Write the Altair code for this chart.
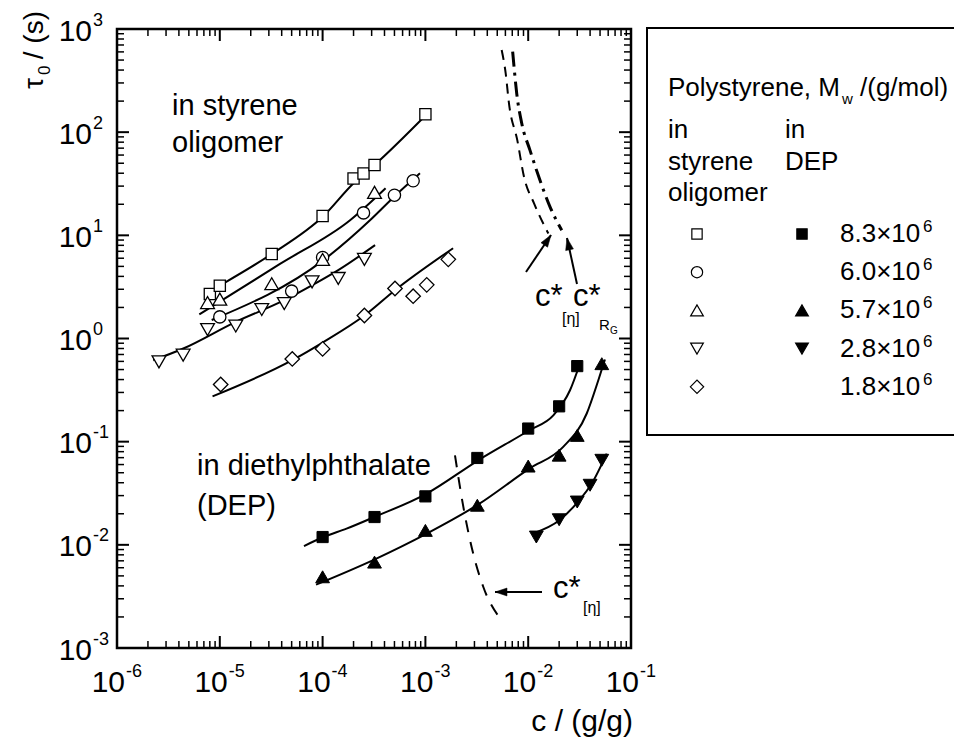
import math
import altair as alt
import pandas as pd

FONT = "Liberation Sans"

# ---------------------------------------------------------------
# Zero-shear relaxation time tau_0 (s) against concentration c (g/g)
# Polystyrene in styrene oligomer (open symbols)
# ---------------------------------------------------------------
so_sq_c = [8.0e-6, 1.0e-5, 3.2e-5, 1.0e-4, 2.0e-4, 2.5e-4, 3.2e-4, 1.0e-3]
so_sq_t = [2.7, 3.25, 6.6, 15.4, 35.6, 39.8, 48.0, 149.0]
so_ci_c = [1.0e-5, 5.0e-5, 1.0e-4, 2.5e-4, 5.0e-4, 7.6e-4]
so_ci_t = [1.62, 2.88, 6.1, 16.5, 24.5, 33.8]
so_tu_c = [7.6e-6, 1.0e-5, 3.2e-5, 1.0e-4, 3.2e-4]
so_tu_t = [2.23, 2.41, 3.4, 5.84, 26.1]
so_td_c = [2.56e-6, 4.4e-6, 7.6e-6, 1.43e-5, 2.56e-5, 4.24e-5, 7.9e-5, 1.42e-4, 2.55e-4]
so_td_t = [0.593, 0.689, 1.22, 1.32, 1.91, 2.18, 3.54, 3.82, 5.84]
so_di_c = [1.02e-5, 5.07e-5, 1.0e-4, 2.55e-4, 5.06e-4, 7.6e-4, 1.03e-3, 1.67e-3]
so_di_t = [0.358, 0.634, 0.793, 1.67, 3.05, 2.57, 3.31, 5.85]

# Polystyrene in diethylphthalate, DEP (filled symbols)
dep_sq_c = [1.0e-4, 3.2e-4, 1.0e-3, 3.2e-3, 1.0e-2, 2.0e-2, 3.0e-2]
dep_sq_t = [0.0119, 0.0186, 0.0295, 0.0695, 0.134, 0.22, 0.54]
dep_tu_c = [1.0e-4, 3.2e-4, 1.0e-3, 3.2e-3, 1.0e-2, 2.0e-2, 3.0e-2, 5.2e-2]
dep_tu_t = [0.0049, 0.0068, 0.0138, 0.0242, 0.058, 0.074, 0.115, 0.57]
dep_td_c = [0.012, 0.020, 0.030, 0.040, 0.052]
dep_td_t = [0.0119, 0.0175, 0.026, 0.0378, 0.066]

# Fitted curves through each series
fit_so_sq_c = [1.08e-5, 3.2e-5, 1.02e-4, 2.0e-4, 3.2e-4, 1.03e-3]
fit_so_sq_t = [3.41, 6.6, 15.4, 32.0, 48.0, 149.0]
fit_so_tu_c = [6.32e-6, 3.85e-5, 1.85e-4, 4.1e-4]
fit_so_tu_t = [1.71, 5.28, 14.0, 28.6]
fit_so_ci_c = [8.34e-6, 1.02e-4, 2.89e-4, 4.88e-4, 8.85e-4]
fit_so_ci_t = [1.51, 5.75, 14.0, 23.3, 39.9]
fit_so_td_c = [2.25e-6, 4.42e-6, 1.43e-5, 4.24e-5, 7.94e-5, 1.42e-4, 3.24e-4]
fit_so_td_t = [0.616, 0.80, 1.45, 2.35, 3.29, 4.6, 8.03]
fit_so_di_c = [8.5e-6, 5.07e-5, 1.0e-4, 2.55e-4, 5.06e-4, 1.86e-3]
fit_so_di_t = [0.275, 0.617, 0.914, 1.67, 2.94, 7.5]

fit_dep_sq_c = [6.59e-5, 1.02e-4, 1.71e-4, 3.18e-4, 1.03e-3, 3.27e-3, 1.025e-2, 1.754e-2, 2.55e-2, 3.19e-2]
fit_dep_sq_t = [0.00973, 0.0119, 0.01436, 0.0186, 0.0314, 0.066, 0.129, 0.180, 0.315, 0.573]
fit_dep_tu_c = [8.63e-5, 3.18e-4, 1.03e-3, 3.24e-3, 1.025e-2, 2.19e-2, 3.71e-2, 4.81e-2, 5.58e-2]
fit_dep_tu_t = [0.00411, 0.0072, 0.01285, 0.0245, 0.0548, 0.089, 0.1875, 0.394, 0.625]
fit_dep_td_c = [1.107e-2, 2.04e-2, 3.03e-2, 4.15e-2, 5.8e-2]
fit_dep_td_t = [0.01285, 0.0175, 0.026, 0.0393, 0.0767]

# Overlap concentrations c*
cstar_eta_so_c = [5.52e-3, 6.04e-3, 6.5e-3, 7.83e-3, 9.1e-3, 1.14e-2, 1.57e-2]
cstar_eta_so_t = [625.0, 372.0, 190.0, 83.8, 36.9, 20.4, 10.4]
cstar_rg_so_c = [7.06e-3, 7.28e-3, 7.73e-3, 8.65e-3, 1.04e-2, 1.30e-2, 1.63e-2, 2.12e-2]
cstar_rg_so_t = [603.0, 431.0, 238.0, 122.0, 67.0, 34.3, 18.9, 11.2]
cstar_eta_dep_c = [1.94e-3, 2.34e-3, 2.92e-3, 3.66e-3, 5.52e-3]
cstar_eta_dep_t = [0.0738, 0.0233, 8.2e-3, 3.9e-3, 1.85e-3]

# Legend entries: molar masses (g/mol) and symbols
mw_mantissa = ["8.3", "6.0", "5.7", "2.8", "1.8"]
mw_exponent = ["6", "6", "6", "6", "6"]
open_shapes = ["square", "circle", "triangle-up", "triangle-down", "diamond"]
filled_shapes = ["square", None, "triangle-up", "triangle-down", None]

# Axis decades
x_exps = [-6, -5, -4, -3, -2, -1]
y_exps = [-3, -2, -1, 0, 1, 2, 3]
minor_mult = [2, 3, 4, 5, 6, 7, 8, 9]

# ---------------------------------------------------------------
# Layout (pixels)
# ---------------------------------------------------------------
CANVAS_W, CANVAS_H = 954, 751
LEFT, TOP = 117, 29
PLOT_W, PLOT_H = 514, 619
MAJOR_LEN, MINOR_LEN = 12, 7

MARKER_SIZE = {"square": 125, "circle": 150, "triangle-up": 190,
               "triangle-down": 190, "diamond": 210}

xs = alt.Scale(type="log", domain=[10.0 ** x_exps[0], 10.0 ** x_exps[-1]], nice=False)
ys = alt.Scale(type="log", domain=[10.0 ** y_exps[0], 10.0 ** y_exps[-1]], nice=False)

x_major = [10.0 ** e for e in x_exps]
y_major = [10.0 ** e for e in y_exps]
x_minor = [m * 10.0 ** e for e in x_exps[:-1] for m in minor_mult]
y_minor = [m * 10.0 ** e for e in y_exps[:-1] for m in minor_mult]

# pixels per decade of the two log axes
X_DEC = PLOT_W / (x_exps[-1] - x_exps[0])
Y_DEC = PLOT_H / (y_exps[-1] - y_exps[0])


# ---- inward-pointing ticks on all four sides of the frame (frame pixels)
def tick_rows(xv, yv, length, width):
    rows = []
    for v in xv:
        p = (math.log10(v) - x_exps[0]) * X_DEC
        rows.append((p, p, PLOT_H, PLOT_H - length, width))
        rows.append((p, p, 0, length, width))
    for v in yv:
        p = PLOT_H - (math.log10(v) - y_exps[0]) * Y_DEC
        rows.append((0, length, p, p, width))
        rows.append((PLOT_W, PLOT_W - length, p, p, width))
    return rows


def series(c, t, name, shape=None):
    d = pd.DataFrame({"c": c, "tau": t, "series": name})
    if shape is not None:
        d["shape"] = shape
        d["sz"] = MARKER_SIZE[shape]
    return d


fits = pd.concat([
    series(fit_so_sq_c, fit_so_sq_t, "so 8.3"),
    series(fit_so_tu_c, fit_so_tu_t, "so 5.7"),
    series(fit_so_ci_c, fit_so_ci_t, "so 6.0"),
    series(fit_so_td_c, fit_so_td_t, "so 2.8"),
    series(fit_so_di_c, fit_so_di_t, "so 1.8"),
    series(fit_dep_sq_c, fit_dep_sq_t, "dep 8.3"),
    series(fit_dep_tu_c, fit_dep_tu_t, "dep 5.7"),
    series(fit_dep_td_c, fit_dep_td_t, "dep 2.8"),
])
pts_open = pd.concat([
    series(so_sq_c, so_sq_t, "8.3", "square"),
    series(so_ci_c, so_ci_t, "6.0", "circle"),
    series(so_tu_c, so_tu_t, "5.7", "triangle-up"),
    series(so_td_c, so_td_t, "2.8", "triangle-down"),
    series(so_di_c, so_di_t, "1.8", "diamond"),
])
pts_filled = pd.concat([
    series(dep_sq_c, dep_sq_t, "8.3", "square"),
    series(dep_tu_c, dep_tu_t, "5.7", "triangle-up"),
    series(dep_td_c, dep_td_t, "2.8", "triangle-down"),
])

fit_lines = alt.Chart(fits).mark_line(
    color="black", strokeWidth=2, interpolate="monotone").encode(
    x=alt.X("c:Q", scale=xs, axis=None),
    y=alt.Y("tau:Q", scale=ys, axis=None),
    detail="series:N",
)


def cstar_line(c, t, dash, width):
    return alt.Chart(pd.DataFrame({"c": c, "tau": t})).mark_line(
        color="black", strokeWidth=width, strokeDash=dash, interpolate="monotone"
    ).encode(x=alt.X("c:Q", scale=xs, axis=None),
             y=alt.Y("tau:Q", scale=ys, axis=None))


cs_eta_so = cstar_line(cstar_eta_so_c, cstar_eta_so_t, [10, 7], 2)
cs_rg_so = cstar_line(cstar_rg_so_c, cstar_rg_so_t, [15, 6, 3, 6], 3)
cs_eta_dep = cstar_line(cstar_eta_dep_c, cstar_eta_dep_t, [12, 10], 2)


def point_layer(df, fill, stroke_width):
    return alt.Chart(df).mark_point(filled=True, fill=fill, stroke="black",
                                    strokeWidth=stroke_width, opacity=1).encode(
        x=alt.X("c:Q", scale=xs, axis=None),
        y=alt.Y("tau:Q", scale=ys, axis=None),
        shape=alt.Shape("shape:N", scale=None, legend=None),
        size=alt.Size("sz:Q", scale=None, legend=None),
    )


open_pts = point_layer(pts_open, "white", 1.3)
filled_pts = point_layer(pts_filled, "black", 1)

# ---- tick labels: "10" with a raised exponent
xlab = pd.DataFrame({"v": x_major, "base": "10", "exp": [str(e) for e in x_exps]})
ylab = pd.DataFrame({"v": y_major, "base": "10", "exp": [str(e) for e in y_exps]})

xlab_base = alt.Chart(xlab).mark_text(align="right", baseline="alphabetic", dx=8,
                                      fontSize=30, font=FONT, color="black").encode(
    x=alt.X("v:Q", scale=xs, axis=None), y=alt.value(692 - TOP), text="base:N")
xlab_exp = alt.Chart(xlab).mark_text(align="left", baseline="alphabetic", dx=9,
                                     fontSize=18, font=FONT, color="black").encode(
    x=alt.X("v:Q", scale=xs, axis=None), y=alt.value(677 - TOP), text="exp:N")
ylab_base = alt.Chart(ylab).mark_text(align="right", baseline="alphabetic", dy=11.5,
                                      fontSize=30, font=FONT, color="black").encode(
    y=alt.Y("v:Q", scale=ys, axis=None), x=alt.value(92 - LEFT), text="base:N")
ylab_exp = alt.Chart(ylab).mark_text(align="left", baseline="alphabetic", dy=-3.5,
                                     fontSize=18, font=FONT, color="black").encode(
    y=alt.Y("v:Q", scale=ys, axis=None), x=alt.value(93 - LEFT), text="exp:N")


# ---- annotations placed in page pixels
def pix(rows, cols):
    d = pd.DataFrame(rows, columns=cols)
    for c in cols:
        if c.startswith("cx"):
            d["p" + c[1:]] = d[c] - LEFT
        if c.startswith("cy"):
            d["p" + c[1:]] = d[c] - TOP
    return d


def text_layer(rows, align, angle=0):
    d = pix(rows, ["text", "cx", "cy", "fs"])
    return alt.Chart(d).mark_text(align=align, baseline="alphabetic", font=FONT,
                                  color="black", angle=angle).encode(
        x=alt.X("px:Q", scale=None, axis=None),
        y=alt.Y("py:Q", scale=None, axis=None),
        text="text:N",
        size=alt.Size("fs:Q", scale=None, legend=None),
    )


ROW0, ROW_STEP = 234, 38.2
rows_y = [ROW0 + ROW_STEP * i for i in range(len(mw_mantissa))]

left_texts = [
    ("in styrene", 172, 115, 29), ("oligomer", 172, 152, 29),
    ("in diethylphthalate", 197, 475, 29), ("(DEP)", 197, 515, 29),
    ("c*", 535, 306, 31), ("[η]", 562, 324, 16),
    ("c*", 573, 306, 31), ("R", 599, 330, 15), ("G", 610, 334, 10),
    ("c*", 553, 598, 31), ("[η]", 583, 613, 16),
    ("Polystyrene, M", 668, 96, 26), ("w", 842, 104, 15), ("/(g/mol)", 860, 96, 26),
    ("in", 668, 138, 26), ("styrene", 668, 170, 26), ("oligomer", 668, 201, 26),
    ("in", 785, 138, 26), ("DEP", 785, 170, 26),
]
for m, e, ry in zip(mw_mantissa, mw_exponent, rows_y):
    left_texts.append((m + "×10", 840, ry + 8, 26))
    left_texts.append((e, 923, ry - 2, 17))

texts_left = text_layer(left_texts, "left")
texts_right = text_layer([("c / (g/g)", 633, 731, 30)], "right")
ytitle_a = text_layer([("τ", 43, 89, 28), ("0", 50, 75, 17)], "left", 270)
ytitle_b = text_layer([("/ (s)", 43, 11, 28)], "right", 270)

# legend frame
legend_box = alt.Chart(pix([(647, 970, 28, 435)], ["cx", "cx2", "cy", "cy2"])).mark_rect(
    filled=False, stroke="black", strokeWidth=2).encode(
    x=alt.X("px:Q", scale=None, axis=None), x2="px2:Q",
    y=alt.Y("py:Q", scale=None, axis=None), y2="py2:Q")

# legend symbols
leg_open = pix([(s, 697, ry, MARKER_SIZE[s] * 0.85) for s, ry in zip(open_shapes, rows_y)],
               ["shape", "cx", "cy", "sz"])
leg_fill = pix([(s, 802, ry, MARKER_SIZE[s] * 0.85) for s, ry in zip(filled_shapes, rows_y) if s],
               ["shape", "cx", "cy", "sz"])


def legend_points(df, fill):
    return alt.Chart(df).mark_point(filled=True, fill=fill, stroke="black",
                                    strokeWidth=1.2, opacity=1).encode(
        x=alt.X("px:Q", scale=None, axis=None),
        y=alt.Y("py:Q", scale=None, axis=None),
        shape=alt.Shape("shape:N", scale=None, legend=None),
        size=alt.Size("sz:Q", scale=None, legend=None),
    )


leg_open_pts = legend_points(leg_open, "white")
leg_fill_pts = legend_points(leg_fill, "black")

# arrows pointing at the c* curves (tail -> tip)
arrows = [(526, 272, 551, 235), (577, 284, 567, 238), (542, 592, 495, 592)]
arrow_df = pix(arrows, ["cx", "cy", "cx2", "cy2"])
arrow_df["ang"] = [(math.degrees(math.atan2(x2 - x1, -(y2 - y1))) + 360) % 360
                   for x1, y1, x2, y2 in arrows]

# straight segments: arrow shafts and the frame ticks, drawn by one rule layer
segments = pd.DataFrame(
    [(r.px, r.px2, r.py, r.py2, 2) for r in arrow_df.itertuples()]
    + tick_rows(x_major, y_major, MAJOR_LEN, 2)
    + tick_rows(x_minor, y_minor, MINOR_LEN, 1.5),
    columns=["px", "px2", "py", "py2", "w"],
)

segment_rules = alt.Chart(segments).mark_rule(color="black").encode(
    x=alt.X("px:Q", scale=None, axis=None), x2="px2:Q",
    y=alt.Y("py:Q", scale=None, axis=None), y2="py2:Q",
    strokeWidth=alt.StrokeWidth("w:Q", scale=None, legend=None),
)
arrow_heads = alt.Chart(arrow_df).mark_point(
    shape="M0,0L-0.33,1L0.33,1Z", filled=True, fill="black", stroke="black",
    strokeWidth=0.5, size=576, opacity=1).encode(
    x=alt.X("px2:Q", scale=None, axis=None),
    y=alt.Y("py2:Q", scale=None, axis=None),
    angle=alt.Angle("ang:Q", scale=None),
)

chart = alt.layer(
    fit_lines, cs_eta_so, cs_rg_so, cs_eta_dep,
    open_pts, filled_pts,
    xlab_base, xlab_exp, ylab_base, ylab_exp,
    legend_box, leg_open_pts, leg_fill_pts,
    segment_rules, arrow_heads,
    texts_left, texts_right, ytitle_a, ytitle_b,
).properties(
    width=PLOT_W, height=PLOT_H,
    autosize=alt.AutoSizeParams(type="none"),
    padding={"left": LEFT, "top": TOP,
             "right": CANVAS_W - LEFT - PLOT_W, "bottom": CANVAS_H - TOP - PLOT_H},
    background="white",
).configure_view(stroke="black", strokeWidth=2.5)

chart.save("out.html", embed_options={"renderer": "svg", "actions": False})
